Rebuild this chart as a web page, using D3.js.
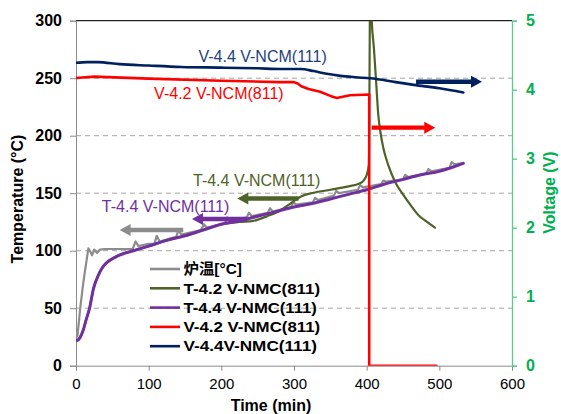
<!DOCTYPE html>
<html><head><meta charset="utf-8">
<script src="https://cdn.jsdelivr.net/npm/d3@7"></script>
<style>
html,body{margin:0;padding:0;background:#fff;}
text{font-family:"Liberation Sans",Arial,"Noto Sans CJK SC",sans-serif;}
</style></head>
<body><svg id="c" width="561" height="414"></svg>
<script>
// ---- data ----
const furnaceTime = [0,2,6,10,13,17,20,22,25,29,33,40,60,78,82,86,100,108,111,115,138,141,145,172,176,180,205,208,212,235,238,242,264,267,271,296,299,303,326,329,333,355,358,362,388,391,395,420,423,427,450,453,457,482,485,489,514,517,521,530];
const furnaceTemp = [24,26,51,72,85,102,99,96,101,98,101,101.5,101.5,101.5,108,104,106,106,113,108,112,118,114,118,123,120,124,129,126,129,133,130,133,137,134,138,142,140,142,146,144,148,152,150,153,157,155,158,161,160,162,166,164,167,171,169,172,177,175,176];

const t811Time = [0,3,6,10,14,18.7,24,31,36,43,50,59,79,100,125,150,175,200,225,244,263,281,295,309,327,350,373,391,400,403,405,407,410,413,416,419,423,430,439,450,460,471,483,494];
const t811Temp = [22,22.5,25,31,40,50,67,79,85,90,93,96,100,104,109,113,118,123,125,126,130,135,141,147,150.4,153,155.7,158.6,165.8,175,340,300,276,247,218,203,189,174,160,149,140,131,125,120];

const t111Time = [0,3,6,10,14,18.7,24,31,36,43,50,59,79,100,125,150,175,200,225,250,275,300,325,350,375,400,425,450,475,500,520,533];
const t111Temp = [22,22.5,25,31,40,50,67,79,85,90,93,96,100,104,109,113,118,123,126,130,134,138,141,145,149,153,158,162,166,169,173,176];

const v811Time = [0,25,100,200,280,300,305,310,320,336,350,359,377,403.5,403.5,496];
const v811Volt = [4.17,4.19,4.16,4.13,4.11,4.11,4.09,4.05,4.01,3.97,3.91,3.88,3.92,3.93,0,0];

const v111Time = [0,15,30,60,100,145,200,250,281,309,327,345,364,385,405,440,465,500,533];
const v111Volt = [4.39,4.40,4.40,4.37,4.35,4.33,4.32,4.31,4.30,4.30,4.27,4.23,4.20,4.18,4.165,4.11,4.07,4.02,3.96];

const timeTicks = [0,100,200,300,400,500,600];
const tempTicks = [0,50,100,150,200,250,300];
const voltTicks = [0,1,2,3,4,5];
const gridTicks = [50,100,150,200,250];

const legendLabels = ["炉温[°C]","T-4.2 V-NMC(811)","T-4.4 V-NMC(111)","V-4.2 V-NMC(811)","V-4.4V-NMC(111)"];
const colors = ["#8c8c8c","#4f6228","#7030a0","#ff0000","#002060"];

// annotations: [text, time, temperature-axis value, colour]
const annotations = [
  ["V-4.4 V-NCM(111)", 168.5, 264.3, "#1f3f7a"],
  ["V-4.2 V-NCM(811)", 107.5, 231.8, "#ff0000"],
  ["T-4.4 V-NCM(111)", 161, 156.3, "#4f6228"],
  ["T-4.4 V-NCM(111)", 35.6, 133.8, "#7030a0"]
];
// arrows: [tailTime, tipTime, value, axis, color]
const arrows = [
  [147.6, 60, 118, "T", "#8c8c8c"],
  [235.7, 159.6, 127.6, "T", "#7030a0"],
  [306.3, 222, 145.4, "T", "#4f6228"],
  [407, 494.4, 3.45, "V", "#ff0000"],
  [468, 558.7, 4.116, "V", "#002060"]
];

// ---- chart ----
const svg = d3.select("#c");
const L = 76, R = 512, T = 20.7, B = 365.7;
const x = d3.scaleLinear().domain([0,600]).range([L,R]);
const yT = d3.scaleLinear().domain([0,300]).range([B,T]);
const yV = d3.scaleLinear().domain([0,5]).range([B,T]);

svg.append("defs").append("clipPath").attr("id","clip")
  .append("rect").attr("x",L).attr("y",T).attr("width",R-L).attr("height",B-T);

// grid
svg.append("g").selectAll("line").data(gridTicks).join("line")
  .attr("x1",L).attr("x2",R).attr("y1",d=>yT(d)).attr("y2",d=>yT(d))
  .attr("stroke","#a6a6a6").attr("stroke-width",1).attr("stroke-dasharray","5,4");

// top border
svg.append("line").attr("x1",L).attr("x2",R).attr("y1",T).attr("y2",T).attr("stroke","#222").attr("stroke-width",1.2);

// axes
const axL = svg.append("g").attr("transform",`translate(${L},0)`)
  .call(d3.axisLeft(yT).tickValues(tempTicks).tickSize(6).tickPadding(8));
axL.selectAll("path,line").attr("stroke","#8c8c8c");
axL.selectAll("text").attr("font-size",16).attr("font-weight","bold").attr("fill","#000").style("font-family","'Liberation Sans',Arial,sans-serif");

const axB = svg.append("g").attr("transform",`translate(0,${B})`)
  .call(d3.axisBottom(x).tickValues(timeTicks).tickSize(5).tickPadding(8));
axB.selectAll("path,line").attr("stroke","#8c8c8c");
axB.selectAll("text").attr("font-size",15).attr("fill","#000").style("font-family","'Liberation Sans',Arial,sans-serif");

const axR = svg.append("g").attr("transform",`translate(${R},0)`)
  .call(d3.axisRight(yV).tickValues(voltTicks).tickFormat(d3.format("d")).tickSize(5).tickPadding(9));
axR.selectAll("path,line").attr("stroke","#5cc98f").attr("stroke-width",1.3);
axR.selectAll("text").attr("font-size",16).attr("font-weight","bold").attr("fill","#00b050").style("font-family","'Liberation Sans',Arial,sans-serif");

// axis titles
svg.append("text").attr("x",271).attr("y",411).attr("text-anchor","middle")
  .attr("font-size",16).attr("font-weight","bold").text("Time (min)");
svg.append("text").attr("transform","translate(23,199) rotate(-90)").attr("text-anchor","middle")
  .attr("font-size",16).attr("font-weight","bold").text("Temperature (°C)");
svg.append("text").attr("transform","translate(555,192.5) rotate(-90)").attr("text-anchor","middle")
  .attr("font-size",16).attr("font-weight","bold").attr("fill","#00b050").text("Voltage (V)");

// series
const plot = svg.append("g").attr("clip-path","url(#clip)");
function addLine(ts, vs, scale, color, width, curve){
  const pts = ts.map((t,i)=>[t,vs[i]]);
  plot.append("path").datum(pts)
    .attr("d", d3.line().x(d=>x(d[0])).y(d=>scale(d[1])).curve(curve))
    .attr("fill","none").attr("stroke",color).attr("stroke-width",width)
    .attr("stroke-linejoin","round").attr("stroke-linecap","round");
}
addLine(furnaceTime, furnaceTemp, yT, colors[0], 2.2, d3.curveLinear);
addLine(t811Time, t811Temp, yT, colors[1], 2.2, d3.curveMonotoneX);
addLine(t111Time, t111Temp, yT, colors[2], 3, d3.curveMonotoneX);
addLine(v811Time, v811Volt, yV, colors[3], 2.6, d3.curveLinear);
addLine(v111Time, v111Volt, yV, colors[4], 2.6, d3.curveMonotoneX);

// arrows
arrows.forEach(([t0,t1,v,ax,col])=>{
  const sc = ax==="T"?yT:yV;
  const x0 = x(t0), x1 = x(t1), y = sc(v);
  const dir = Math.sign(x1-x0);
  const hl = 11, hw = 6, sw = 2.2;
  const xb = x1 - dir*hl;
  const p = [[x0,y-sw],[xb,y-sw],[xb,y-hw],[x1,y],[xb,y+hw],[xb,y+sw],[x0,y+sw]];
  svg.append("path").attr("d","M"+p.map(q=>q.join(",")).join("L")+"Z").attr("fill",col);
});

// annotations
annotations.forEach(([txt,t,v,col])=>{
  svg.append("text").attr("x",x(t)).attr("y",yT(v)).attr("font-size",16).attr("fill",col).text(txt);
});

// legend
const legY0 = 269, legDy = 19.3;
const legWidths = [58.4,136.7,133.4,136.7,133.4];
const lg = svg.append("g");
legendLabels.forEach((lab,i)=>{
  const yy = legY0 + i*legDy;
  lg.append("line").attr("x1",150).attr("x2",180).attr("y1",yy).attr("y2",yy)
    .attr("stroke",colors[i]).attr("stroke-width",2.6);
  lg.append("text").attr("x",183.5).attr("y",yy+5.2).attr("font-size",15).attr("font-weight","bold")
    .attr("fill","#000").attr("textLength",legWidths[i]).attr("lengthAdjust","spacingAndGlyphs").text(lab);
});
</script>
</body></html>
